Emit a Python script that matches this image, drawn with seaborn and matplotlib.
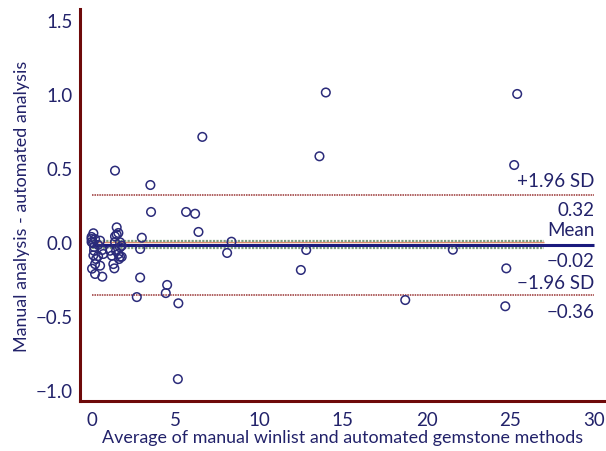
import matplotlib
matplotlib.use("Agg")
import matplotlib.pyplot as plt
import seaborn as sns
import pandas as pd

# average of the two methods (x) and their difference (y)
avg_vals = [1.40, 3.51, 3.55, 5.64, 6.18, 6.38, 6.61, 8.35, 8.09, 13.98,
            13.60, 25.40, 25.22, 21.56, 24.75, 24.69, 18.72, 12.49, 12.81, 3.00,
            2.90, 2.90, 2.70, 4.51, 4.43, 5.18, 5.15,
            1.50, 1.60, 1.50, 1.40, 1.40, 1.70, 1.80, 1.70, 1.10, 1.46,
            1.60, 1.21, 1.70, 1.80, 1.30, 1.36, 1.64,
            0.11, 0.00, 0.00, 0.21, 0.00, 0.09, 0.51, 0.39, 0.15, 0.15,
            0.11, 0.27, 0.70, 0.63, 0.21, 0.51, 0.21, 0.64, 0.03, 0.39]
diff_vals = [0.482, 0.385, 0.203, 0.203, 0.191, 0.068, 0.710, 0.002, -0.074, 1.010,
             0.579, 1.000, 0.520, -0.052, -0.178, -0.434, -0.392, -0.189, -0.054, 0.029,
             -0.047, -0.240, -0.372, -0.290, -0.345, -0.414, -0.926,
             0.099, 0.061, 0.050, 0.038, 0.000, -0.002, -0.025, -0.036, -0.059, -0.060,
             -0.081, -0.092, -0.100, -0.100, -0.149, -0.178, -0.115,
             0.059, 0.034, 0.020, 0.020, 0.000, -0.007, 0.009, -0.020, -0.034, -0.059,
             -0.090, -0.115, -0.081, -0.054, -0.149, -0.160, -0.216, -0.234, -0.180, -0.095]

mean_diff = -0.02
upper_loa = 0.32
lower_loa = -0.36
mean_ci = [0.008, -0.04]
x_end = 30
ci_end = 27

df = pd.DataFrame({"avg": avg_vals, "diff": diff_vals})

navy = "#22226a"
maroon = "#6e0a0a"

sns.set_style("white")
plt.rcParams["font.family"] = ["Lato", "DejaVu Sans"]

fig = plt.figure(figsize=(6.06, 4.52), dpi=100)
ax = fig.add_axes([0.132, 0.1106, 0.868, 0.8673])

# reference lines
ax.hlines(0, 0, ci_end, color="#e08a6a", lw=1.0, zorder=1)
for c in mean_ci:
    ax.hlines(c, 0, ci_end, color="#7f9f7f", lw=1.6, linestyles=(0, (1, 0.6)), zorder=1)
for v in (upper_loa, lower_loa):
    ax.hlines(v, 0, x_end, color="#993333", lw=1.1, linestyles=(0, (1, 0.6)), zorder=1)
ax.hlines(mean_diff, 0, x_end, color="#1a1a7e", lw=2.2, zorder=2)

sns.scatterplot(data=df, x="avg", y="diff", ax=ax, s=38, marker="o",
                edgecolor="#2b2b7a", linewidth=1.1, zorder=3)
ax.collections[-1].set_facecolor("none")

# labels on the right
txt = dict(color=navy, fontsize=13.5, ha="right", va="center",
           textcoords="offset points")
ax.annotate("+1.96 SD", (x_end, upper_loa), xytext=(0, 10), **txt)
ax.annotate(f"{upper_loa:.2f}", (x_end, upper_loa), xytext=(0, -10.5), **txt)
ax.annotate("Mean", (x_end, mean_diff), xytext=(0, 11), **txt)
ax.annotate(f"\u2212{abs(mean_diff):.2f}", (x_end, mean_diff), xytext=(0, -11), **txt)
ax.annotate("\u22121.96 SD", (x_end, lower_loa), xytext=(0, 9.5), **txt)
ax.annotate(f"\u2212{abs(lower_loa):.2f}", (x_end, lower_loa), xytext=(0, -11.5), **txt)

ax.set_xlim(-0.69, 30.7)
ax.set_ylim(-1.074, 1.574)
ax.set_xticks([0, 5, 10, 15, 20, 25, 30])
ax.set_yticks([-1.0, -0.5, 0.0, 0.5, 1.0, 1.5])
ax.set_yticklabels(["\u22121.0", "\u22120.5", "0.0", "0.5", "1.0", "1.5"])

for s in ("top", "right"):
    ax.spines[s].set_visible(False)
for s in ("left", "bottom"):
    ax.spines[s].set_color(maroon)
    ax.spines[s].set_linewidth(2.2)
ax.tick_params(direction="in", length=8.5, width=2.0, color=maroon,
               labelcolor=navy, labelsize=13.5, pad=5)
ax.tick_params(axis="x", pad=7)

ax.set_xlabel("Average of manual winlist and automated gemstone methods",
              color=navy, fontsize=12.9, labelpad=1)
ax.set_ylabel("Manual analysis - automated analysis", color=navy,
              fontsize=12.9, labelpad=4)

fig.savefig("out.png", dpi=100)
